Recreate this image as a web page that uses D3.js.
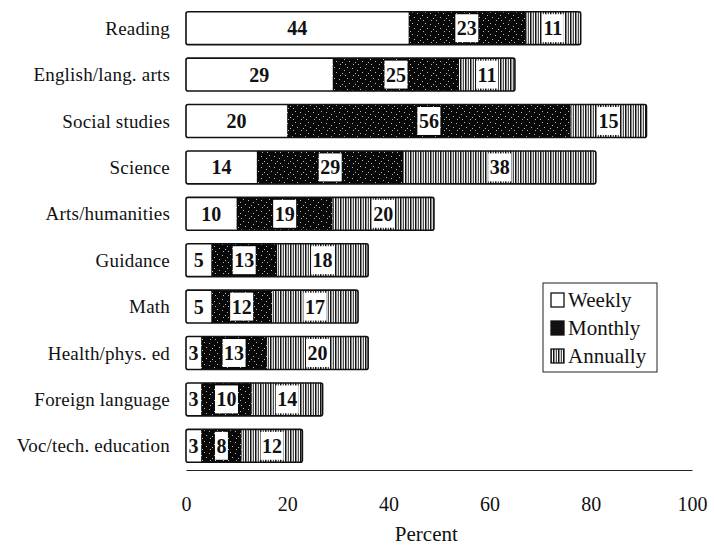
<!DOCTYPE html>
<html>
<head>
<meta charset="utf-8">
<script src="https://cdn.jsdelivr.net/npm/d3@7"></script>
<style>
  body { margin: 0; background: #fff; }
  text { font-family: "Liberation Serif", "Times New Roman", serif; fill: #111; }
</style>
</head>
<body>
<div class="chart"></div>
<script>
// values
const categories = ["Reading", "English/lang. arts", "Social studies", "Science", "Arts/humanities",
    "Guidance", "Math", "Health/phys. ed", "Foreign language", "Voc/tech. education"];
const weekly = [44, 29, 20, 14, 10, 5, 5, 3, 3, 3];
const monthly = [23, 25, 56, 29, 19, 13, 12, 13, 10, 8];
const annually = [11, 11, 15, 38, 20, 18, 17, 20, 14, 12];
const seriesNames = ["Weekly", "Monthly", "Annually"];
const xTicks = [0, 20, 40, 60, 80, 100];

const width = 714, height = 545;

const svg = d3.select('.chart').append('svg')
    .attr('width', width)
    .attr('height', height);

// fills: white, dark speckle, vertical stripes
const defs = svg.append('defs');
const mon = defs.append('pattern').attr('id', 'monthly')
    .attr('patternUnits', 'userSpaceOnUse').attr('width', 13).attr('height', 11);
mon.append('rect').attr('width', 13).attr('height', 11).attr('fill', '#080808');
[[1,2],[4,7],[9,1],[11,6],[2,9],[6,4],[7,9]].forEach(p => {
    mon.append('rect').attr('x', p[0]).attr('y', p[1]).attr('width', 1).attr('height', 1).attr('fill', '#bbb');
});
const ann = defs.append('pattern').attr('id', 'annually')
    .attr('patternUnits', 'userSpaceOnUse').attr('width', 5).attr('height', 10);
ann.append('rect').attr('width', 5).attr('height', 10).attr('fill', '#fff');
ann.append('rect').attr('x', 0).attr('width', 1.5).attr('height', 10).attr('fill', '#111');
ann.append('rect').attr('x', 2.8).attr('width', 1).attr('height', 10).attr('fill', '#222');

const fills = {Weekly: '#fff', Monthly: 'url(#monthly)', Annually: 'url(#annually)'};

// table for the stack
const table = categories.map((c, i) => ({
    category: c, Weekly: weekly[i], Monthly: monthly[i], Annually: annually[i]
}));
const stacked = d3.stack().keys(seriesNames)(table);

const x = d3.scaleLinear().domain([0, 100]).range([186, 692]);
const y = d3.scaleBand().domain(categories).range([5, 469])
    .paddingInner(0.29).paddingOuter(0.145);

// segments
const layers = svg.selectAll('.layer')
    .data(stacked)
    .enter().append('g')
    .attr('class', 'layer')
    .attr('fill', d => fills[d.key]);

layers.selectAll('rect')
    .data(d => d)
    .enter().append('rect')
    .attr('x', d => x(d[0]))
    .attr('y', d => y(d.data.category))
    .attr('width', d => x(d[1]) - x(d[0]))
    .attr('height', y.bandwidth());

// bar outlines
svg.selectAll('.outline')
    .data(table)
    .enter().append('rect')
    .attr('class', 'outline')
    .attr('x', x(0))
    .attr('y', d => y(d.category))
    .attr('width', d => x(d.Weekly + d.Monthly + d.Annually) - x(0))
    .attr('height', y.bandwidth())
    .attr('rx', 2)
    .attr('fill', 'none')
    .attr('stroke', '#111')
    .attr('stroke-width', 1.6);

// value labels in white boxes
stacked.forEach(layer => {
    layer.forEach(d => {
        const cx = (x(d[0]) + x(d[1])) / 2;
        const cy = y(d.data.category) + y.bandwidth() / 2;
        const g = svg.append('g');
        const box = g.append('rect').attr('fill', '#fff');
        const t = g.append('text')
            .attr('x', cx)
            .attr('y', cy)
            .attr('dy', '0.35em')
            .attr('text-anchor', 'middle')
            .style('font-size', '20px')
            .style('font-weight', 'bold')
            .text(d.data[layer.key]);
        const w = t.node().getComputedTextLength();
        box.attr('x', cx - w / 2 - 1.5)
            .attr('y', y(d.data.category) + 2.5)
            .attr('width', w + 3)
            .attr('height', y.bandwidth() - 5);
    });
});

// category labels
svg.selectAll('.cat')
    .data(categories)
    .enter().append('text')
    .attr('class', 'cat')
    .attr('x', 170)
    .attr('y', d => y(d) + y.bandwidth() / 2)
    .attr('dy', '0.35em')
    .attr('text-anchor', 'end')
    .style('font-size', '19px')
    .style('letter-spacing', '0.2px')
    .text(d => d);

// x axis
const xAxis = svg.append('g')
    .attr('transform', 'translate(0,470)')
    .call(d3.axisBottom(x).tickValues(xTicks).tickSize(0).tickPadding(27));
xAxis.select('.domain').attr('stroke', '#222').attr('stroke-width', 1.2);
xAxis.selectAll('text')
    .style('font-family', '"Liberation Serif", serif')
    .style('font-size', '20px')
    .attr('fill', '#111');

svg.append('text')
    .attr('x', x(47.5))
    .attr('y', 541)
    .attr('text-anchor', 'middle')
    .style('font-size', '21px')
    .text('Percent');

// legend
const legend = svg.append('g').attr('transform', 'translate(543,283)');
legend.append('rect')
    .attr('width', 114).attr('height', 89)
    .attr('fill', '#fff').attr('stroke', '#222').attr('stroke-width', 1);
seriesNames.forEach((s, i) => {
    const ly = 17 + i * 28;
    legend.append('rect')
        .attr('x', 8).attr('y', ly - 7)
        .attr('width', 13).attr('height', 14)
        .attr('fill', s === 'Monthly' ? '#111' : fills[s])
        .attr('stroke', '#111').attr('stroke-width', 1.3);
    legend.append('text')
        .attr('x', 25).attr('y', ly)
        .attr('dy', '0.35em')
        .style('font-size', '21px')
        .text(s);
});
</script>
</body>
</html>
